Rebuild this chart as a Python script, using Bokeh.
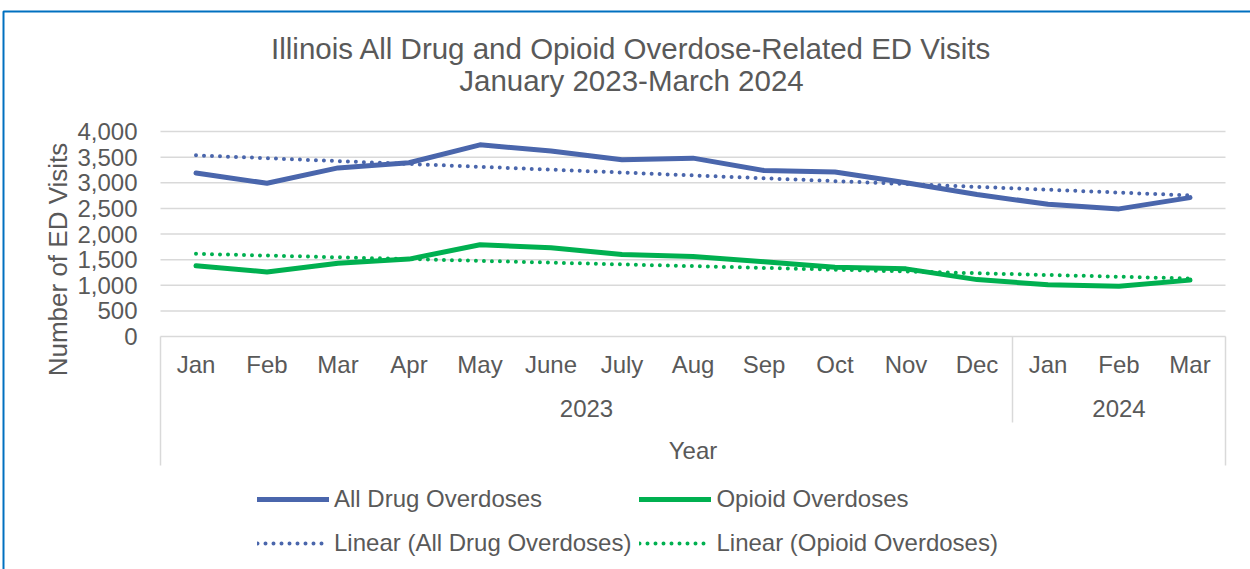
import numpy as np
from bokeh.plotting import figure
from bokeh.models import Range1d, Legend, LegendItem
from bokeh.embed import file_html
from bokeh.resources import INLINE
from bokeh.core.properties import value

# ---------------- data ----------------
years = ["2023"] * 12 + ["2024"] * 3
months = ["Jan", "Feb", "Mar", "Apr", "May", "June", "July", "Aug", "Sep", "Oct",
          "Nov", "Dec", "Jan", "Feb", "Mar"]
all_drug = [3190, 2990, 3290, 3390, 3740, 3620, 3450, 3480, 3240, 3210, 3000, 2770, 2580, 2490, 2710]
opioid = [1380, 1260, 1430, 1510, 1790, 1730, 1600, 1560, 1460, 1350, 1320, 1110, 1010, 980, 1100]
y_ticks = [0, 500, 1000, 1500, 2000, 2500, 3000, 3500, 4000]
title_lines = ["Illinois All Drug and Opioid Overdose-Related ED Visits", "January 2023-March 2024"]
y_title = "Number of ED Visits"
x_title = "Year"
series_names = ["All Drug Overdoses", "Opioid Overdoses",
                "Linear (All Drug Overdoses)", "Linear (Opioid Overdoses)"]

# category positions (one slot per month)
pos = np.arange(len(months)) + 0.5
year_names = sorted(set(years))
year_centers = [float(np.mean([pp for pp, yy in zip(pos, years) if yy == y])) for y in year_names]
year_bounds = [float(max(pp for pp, yy in zip(pos, years) if yy == y) + 0.5) for y in year_names[:-1]]

# linear trend lines (Excel "Linear" trendline = least squares fit)
idx = np.arange(1, len(all_drug) + 1)
trend_all = np.polyval(np.polyfit(idx, all_drug, 1), idx)
trend_op = np.polyval(np.polyfit(idx, opioid, 1), idx)

# ---------------- layout ----------------
FONT = "Liberation Sans"
TXT = "#595959"
GRID = "#D9D9D9"
BLUE = "#4A66AC"
GREEN = "#00B050"
W, H = 1250, 569
PLOT_L, PLOT_R, PLOT_T, PLOT_B = 160, 1225, 131, 336   # plot area in pixels
NCAT = len(months)
YMAX = y_ticks[-1]
PX_X = (PLOT_R - PLOT_L) / NCAT
PX_Y = (PLOT_B - PLOT_T) / YMAX


def xd(px):
    return (px - PLOT_L) / PX_X


def yd(py):
    return (PLOT_B - py) / PX_Y


p = figure(width=W, height=H, output_backend="svg", toolbar_location=None,
           x_range=Range1d(xd(0), xd(W)), y_range=Range1d(yd(H), yd(0)),
           x_axis_type=None, y_axis_type=None, min_border=0,
           min_border_left=0, min_border_right=0, min_border_top=0, min_border_bottom=0)
p.outline_line_color = None
p.background_fill_color = "white"
p.border_fill_color = "white"
p.xgrid.visible = False
p.ygrid.visible = False

# gridlines
p.segment(x0=[0] * len(y_ticks), x1=[NCAT] * len(y_ticks), y0=y_ticks, y1=y_ticks,
          line_color=GRID, line_width=1.5)

# category box
box_x = [0, NCAT] + year_bounds
box_bottom = [yd(465), yd(465)] + [yd(422)] * len(year_bounds)
p.segment(x0=box_x, x1=box_x, y0=[0] * len(box_x), y1=box_bottom, line_color=GRID, line_width=1.5)

# outer blue frame
p.line(x=[xd(3), xd(3), xd(W + 5)], y=[yd(H + 5), yd(11), yd(11)], line_color="#0070C0", line_width=2)

# series
r1 = p.line(x=pos, y=all_drug, line_color=BLUE, line_width=5, line_join="round", line_cap="round")
r2 = p.line(x=pos, y=opioid, line_color=GREEN, line_width=5, line_join="round", line_cap="round")
t1 = p.line(x=pos, y=trend_all, line_color=BLUE, line_width=4, line_dash="0 8", line_cap="round")
t2 = p.line(x=pos, y=trend_op, line_color=GREEN, line_width=4, line_dash="0 8", line_cap="round")

common = dict(text_font=value(FONT), text_color=TXT, text_baseline="middle")

# y tick labels
p.text(x=[xd(137)] * len(y_ticks), y=y_ticks, text=[f"{v:,}" for v in y_ticks],
       text_align="right", text_font_size="24px", **common)
# month labels
p.text(x=pos, y=[yd(364)] * NCAT, text=months, text_align="center", text_font_size="24px", **common)
# year labels
p.text(x=year_centers, y=[yd(408)] * len(year_names), text=year_names, text_align="center",
       text_font_size="24px", **common)
# axis titles
p.text(x=[NCAT / 2], y=[yd(450)], text=[x_title], text_align="center", text_font_size="24px", **common)
p.text(x=[xd(57)], y=[yd(259)], text=[y_title], angle=np.pi / 2, text_align="center",
       text_font_size="26px", **common)
# chart title
p.text(x=[xd(631)] * 2, y=[yd(48), yd(80)], text=title_lines, text_align="center",
       text_font_size="29.5px", **common)

legend = Legend(items=[LegendItem(label=series_names[0], renderers=[r1]),
                       LegendItem(label=series_names[1], renderers=[r2]),
                       LegendItem(label=series_names[2], renderers=[t1]),
                       LegendItem(label=series_names[3], renderers=[t2])],
                location=(257, 8), orientation="horizontal", ncols=2,
                label_text_font=FONT, label_text_font_size="24px", label_text_color=TXT,
                glyph_width=72, glyph_height=36, label_height=36, label_standoff=5,
                spacing=8, padding=0, margin=0, border_line_color=None,
                background_fill_alpha=0)
p.add_layout(legend, "center")

open("out.html", "w").write(file_html(p, INLINE))
